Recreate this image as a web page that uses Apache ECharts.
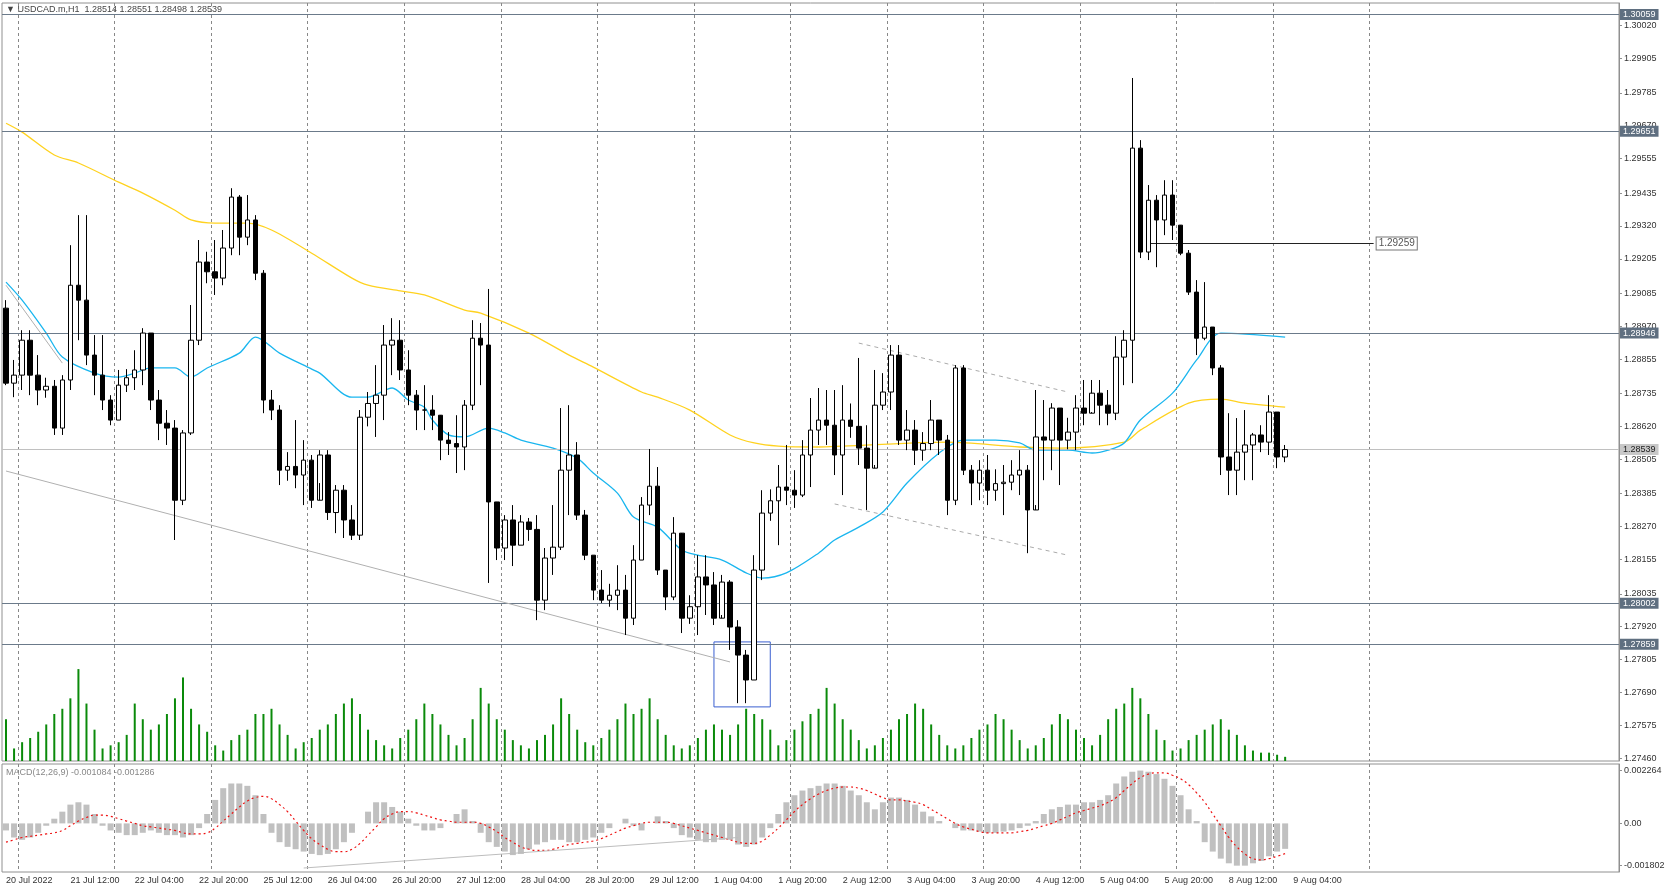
<!DOCTYPE html>
<html><head><meta charset="utf-8">
<script src="https://cdn.jsdelivr.net/npm/echarts@6/dist/echarts.min.js"></script>
<style>html,body{margin:0;padding:0;background:#fff}#c{width:1668px;height:889px}</style>
</head><body><div id="c"></div>
<script>
const firstOpen = 1.29033;
const closes = [1.28771,1.28799,1.28921,1.28799,1.28747,1.28760,1.28614,1.28782,1.29113,1.29061,1.28869,1.28799,1.28712,1.28642,1.28764,1.28790,1.28817,1.28946,1.28712,1.28631,1.28614,1.28362,1.28597,1.28921,1.29194,1.29160,1.29138,1.29243,1.29421,1.29281,1.29341,1.29155,1.28712,1.28677,1.28467,1.28480,1.28450,1.28502,1.28362,1.28520,1.28319,1.28397,1.28293,1.28240,1.28652,1.28700,1.28729,1.28904,1.28921,1.28817,1.28729,1.28677,1.28677,1.28659,1.28572,1.28560,1.28548,1.28694,1.28928,1.28904,1.28356,1.28195,1.28293,1.28205,1.28286,1.28260,1.28013,1.28160,1.28198,1.28467,1.28520,1.28310,1.28170,1.28048,1.28013,1.28030,1.28048,1.27950,1.28153,1.28345,1.28411,1.28118,1.28024,1.28247,1.27950,1.27990,1.28094,1.28066,1.27950,1.28076,1.27919,1.27821,1.27734,1.28118,1.28317,1.28360,1.28408,1.28397,1.28380,1.28520,1.28607,
1.28642,1.28624,1.28520,1.28642,1.28620,1.28544,1.28474,1.28694,1.28740,1.28869,1.28572,1.28607,1.28537,1.28560,1.28642,1.28572,1.28362,1.28824,1.28467,1.28422,1.28467,1.28397,1.28420,1.28425,1.28450,1.28467,1.28328,1.28583,1.28572,1.28684,1.28572,1.28600,1.28684,1.28666,1.28736,1.28694,1.28666,1.28862,1.28921,
1.29592,1.29229,1.29410,1.29341,1.29428,1.29323,1.29225,1.29089,1.28928,1.28967,1.28824,1.28513,1.28467,1.28530,1.28555,1.28590,1.28565,1.28670,1.28513,1.28539];
const highs = [1.29061,1.28852,1.28956,1.28956,1.28869,1.28790,1.28782,1.28799,1.29253,1.29358,1.29358,1.28939,1.28939,1.28729,1.28817,1.28820,1.28886,1.28963,1.28939,1.28747,1.28677,1.28642,1.28607,1.29044,1.29271,1.29230,1.29271,1.29306,1.29452,1.29428,1.29428,1.29358,1.29166,1.28747,1.28694,1.28530,1.28642,1.28572,1.28520,1.28537,1.28537,1.28415,1.28415,1.28345,1.28677,1.28740,1.28834,1.28974,1.28998,1.28991,1.28886,1.28747,1.28764,1.28729,1.28642,1.28600,1.28659,1.28712,1.28991,1.28981,1.29100,1.28328,1.28310,1.28345,1.28310,1.28300,1.28310,1.28195,1.28345,1.28684,1.28694,1.28565,1.28328,1.28170,1.28118,1.28070,1.28135,1.28101,1.28205,1.28373,1.28541,1.28478,1.28048,1.28303,1.28205,1.28030,1.28170,1.28170,1.28111,1.28101,1.28083,1.27943,1.27839,1.28170,1.28397,1.28400,1.28485,1.28555,1.28467,1.28572,1.28719,
1.28754,1.28747,1.28747,1.28764,1.28700,1.28859,1.28624,1.28817,1.28806,1.28904,1.28904,1.28677,1.28642,1.28600,1.28712,1.28642,1.28590,1.28834,1.28834,1.28485,1.28502,1.28520,1.28470,1.28485,1.28502,1.28537,1.28485,1.28747,1.28712,1.28701,1.28677,1.28650,1.28729,1.28782,1.28782,1.28782,1.28747,1.28935,1.28956,
1.29837,1.29620,1.29463,1.29428,1.29480,1.29480,1.29306,1.29236,1.29131,1.29124,1.28956,1.28834,1.28666,1.28649,1.28677,1.28597,1.28624,1.28729,1.28624,1.28555];
const lows = [1.28764,1.28722,1.28747,1.28729,1.28694,1.28720,1.28590,1.28590,1.28747,1.28921,1.28834,1.28729,1.28677,1.28624,1.28642,1.28740,1.28747,1.28764,1.28677,1.28572,1.28555,1.28223,1.28345,1.28590,1.28904,1.29120,1.29079,1.29113,1.29218,1.29218,1.29253,1.29131,1.28666,1.28642,1.28415,1.28430,1.28404,1.28345,1.28335,1.28422,1.28293,1.28247,1.28230,1.28223,1.28223,1.28620,1.28583,1.28642,1.28799,1.28782,1.28694,1.28607,1.28607,1.28607,1.28502,1.28520,1.28457,1.28467,1.28677,1.28764,1.28073,1.28153,1.28153,1.28132,1.28205,1.28220,1.27943,1.27978,1.28101,1.28188,1.28310,1.28293,1.28153,1.28013,1.28003,1.27990,1.27978,1.27891,1.27926,1.28153,1.28310,1.28101,1.27978,1.28013,1.27898,1.27930,1.27891,1.27961,1.27926,1.27961,1.27839,1.27653,1.27653,1.27734,1.28083,1.28290,1.28205,1.28345,1.28335,1.28373,1.28408,
1.28555,1.28555,1.28450,1.28380,1.28580,1.28485,1.28328,1.28485,1.28677,1.28677,1.28555,1.28537,1.28485,1.28500,1.28537,1.28520,1.28310,1.28345,1.28450,1.28345,1.28362,1.28345,1.28360,1.28310,1.28397,1.28380,1.28177,1.28345,1.28432,1.28467,1.28415,1.28540,1.28537,1.28624,1.28670,1.28624,1.28624,1.28642,1.28764,
1.28771,1.29208,1.29201,1.29176,1.29288,1.29271,1.29218,1.29079,1.28869,1.28921,1.28799,1.28450,1.28380,1.28380,1.28432,1.28432,1.28530,1.28520,1.28474,1.28495];
const volumes = [40,12,18,22,28,35,45,50,60,88,55,30,12,15,18,25,55,40,30,35,45,60,80,50,35,28,15,10,20,25,30,45,45,50,35,25,12,18,22,30,35,45,55,60,45,30,20,15,12,22,30,40,55,45,35,25,15,22,40,70,55,40,30,20,15,12,20,25,35,60,45,30,18,15,22,30,40,55,45,50,60,40,25,15,12,15,22,30,35,30,25,35,50,45,40,30,15,20,30,38,45,50,70,55,40,30,20,12,15,22,30,40,45,55,50,35,25,15,12,15,22,30,35,45,40,30,20,12,15,22,35,45,40,30,22,15,25,40,50,55,70,60,45,30,20,10,12,20,25,30,35,40,30,25,15,10,8,8,6,4];
const macdMain = [-3,-6,-7,-6,-4,-1,2,5,8,9,8,4,-1,-3,-4,-5,-5,-4,-3,-4,-5,-5,-6,-5,-2,4,10,15,17,17,16,12,4,-4,-8,-10,-11,-12,-13,-13.5,-13,-11,-8,-4,0,5,9,9,7,5,2,-1,-3,-3,-2,0,4,6,1,-4,-8,-10,-12,-13.5,-13,-11,-9,-8,-7,-7,-8,-8,-7,-6,-4,-2,0,2,-1,-3,0,3,1,-2,-5,-6,-7,-8,-8,-7,-7,-9,-10,-9,-6,-2,4,9,12,14,15,16,17,17,16,14,12,9,6,9,11,11,10,8,5,3,1,0,-2,-3,-3,-3.5,-4,-4,-3.5,-3,-2,-1,1,4,6,7,8,8,9,9,10,12,17,20,22,22.5,22,21,19,16,12,6,1,-8,-12,-15,-17,-18,-18,-17,-16,-14,-12,-10.84];
const macdSignal = [-8,-7,-6,-5.5,-5,-4.5,-4,-3,-1,1,2.5,3.5,3.5,3,2,1,0,-1,-1.5,-2,-2.5,-3,-4,-4.5,-4.5,-4,-2,1,4,7,9.5,11,11.5,10.5,8,5,1,-3,-6.5,-9,-11,-12,-12,-11,-8.5,-5,-1.5,2,4,5,5,4.5,3.5,2.5,1.5,1,0.5,0.5,0.5,0,-1.5,-3.5,-6,-8,-10,-11,-11.5,-11.5,-11,-10,-9,-8.5,-8,-7.5,-6.5,-5,-3.5,-2,-1,0,0.5,0.5,0.5,0,-1,-2,-3,-4,-5,-6,-7,-8,-8.5,-8.5,-7.5,-5,-2,1.5,5,8,10.5,12.5,14,15,15.5,15.5,15,14,12.5,11,10,10,9.5,9,8,6,4,2,0,-1.5,-2.5,-3.5,-4,-4,-4,-4,-3.5,-3,-2,-1,0,1.5,3,4.5,5.5,6.5,7.5,9,11,14,17,19.5,21,21.5,21.5,20.5,19,16.5,13,9,4,-1,-6,-10,-13,-15,-15.5,-15,-14,-12.86];
const maFast = [[0,1.29124],[2,1.29061],[5,1.28946],[7,1.28862],[11,1.28806],[14,1.28792],[16,1.28806],[18,1.28824],[21,1.28824],[23,1.28792],[25,1.28824],[29,1.28876],[31,1.28932],[34,1.28876],[38,1.28820],[39,1.28806],[43,1.28722],[45,1.28722],[48,1.28754],[50,1.28712],[52,1.28687],[53,1.28642],[55,1.28590],[57,1.28583],[60,1.28614],[62,1.28597],[64,1.28572],[68,1.28544],[71,1.28509],[73,1.28457],[76,1.28387],[78,1.28303],[81,1.28268],[84,1.28188],[86,1.28170],[89,1.28153],[92,1.28108],[94,1.28090],[97,1.28108],[101,1.28177],[103,1.28223],[106,1.28268],[109,1.28321],[112,1.28422],[116,1.28527],[119,1.28572],[123,1.28572],[126,1.28562],[128,1.28537],[132,1.28537],[135,1.28527],[137,1.28537],[139,1.28562],[141,1.28642],[145,1.28736],[148,1.28852],[151,1.28946],[159,1.28932]];
const maSlow = [[0,1.29679],[2,1.29648],[6,1.29568],[9,1.29540],[14,1.29473],[17,1.29435],[21,1.29375],[23,1.29341],[26,1.29330],[30,1.29330],[33,1.29306],[38,1.29225],[43,1.29138],[45,1.29113],[49,1.29093],[52,1.29079],[57,1.29026],[59,1.29016],[65,1.28946],[70,1.28869],[73,1.28827],[79,1.28740],[81,1.28722],[85,1.28677],[90,1.28590],[93,1.28562],[96,1.28551],[101,1.28548],[104,1.28551],[117,1.28565],[126,1.28548],[131,1.28544],[139,1.28565],[141,1.28607],[147,1.28701],[151,1.28715],[154,1.28701],[159,1.28687]];
const levelLines = [1.30059,1.29651,1.28946,1.28002,1.27859];
const currentPrice = 1.28539;
const rayLevel = [[142,1.29259],[170,1.29259]];
const trendMain = [[0,1.28464],[90,1.27797]];
const trendShort = [[0,1.29113],[7,1.28841]];
const channelUpper = [[106,1.28911],[132,1.28740]];
const channelLower = [[103,1.28349],[132,1.28170]];
const boxArea = [[88,1.27867],[95,1.27640]];
const macdTrend = [[37,-0.00190],[91,-0.00060]];
const priceTicks = [1.30020,1.29905,1.29785,1.29670,1.29555,1.29435,1.29320,1.29205,1.29085,1.28970,1.28855,1.28735,1.28620,1.28505,1.28385,1.28270,1.28155,1.28035,1.27920,1.27805,1.27690,1.27575,1.27460];
const macdTicks = [0.002264,0,-0.001802];
const timeLabels = ["20 Jul 2022","21 Jul 12:00","22 Jul 04:00","22 Jul 20:00","25 Jul 12:00","26 Jul 04:00","26 Jul 20:00","27 Jul 12:00","28 Jul 04:00","28 Jul 20:00","29 Jul 12:00","1 Aug 04:00","1 Aug 20:00","2 Aug 12:00","3 Aug 04:00","3 Aug 20:00","4 Aug 12:00","5 Aug 04:00","5 Aug 20:00","8 Aug 12:00","9 Aug 04:00"];
const SLOTS = 201;

const cats = Array.from({length:SLOTS},(_,i)=>String(i));
const candles = closes.map((c,i)=>[i===0?firstOpen:closes[i-1], c, lows[i], highs[i]]);
const macdVals = macdMain.map(v=>v/10000);
const sigVals = macdSignal.map(v=>v/10000);
const FONT = 'Liberation Sans';
const grid = '#888';
const chart = echarts.init(document.getElementById('c'));
const lvlLabel = (bg,fg)=>({show:true,position:'end',distance:1,formatter:p=>Number(p.value).toFixed(5),backgroundColor:bg,color:fg,padding:[1,3,1,3],fontSize:9,fontFamily:FONT});
const noLbl = {show:false};
const seg = (a,b,style,label)=>[{coord:a,lineStyle:style,label:label||noLbl},{coord:b,lineStyle:style,label:label||noLbl}];
const xBase = (gi,showLabel)=>({type:'category',gridIndex:gi,data:cats,boundaryGap:true,
  axisLine:{show:false},axisTick:{show:false},
  axisLabel:{show:showLabel,interval:i=>i%8===0,formatter:(v,i)=>timeLabels[i/8]||'',align:'left',fontSize:9,color:'#333',fontFamily:FONT,margin:4},
  splitLine:{show:gi!==1,interval:i=>i%12===2&&i<180,lineStyle:{color:grid,type:[3,3],width:1}}});
const greyLine = {color:'#b0b0b0',width:1,type:'solid'};
const dashLine = {color:'#aaa',width:1,type:[4,4]};
chart.setOption({
  animation:false,
  graphic:[
    {type:'text',left:6,top:5,style:{text:'▼ USDCAD.m,H1  1.28514 1.28551 1.28498 1.28539',fontSize:9,fill:'#444',fontFamily:FONT}},
    {type:'text',left:6,top:768,style:{text:'MACD(12,26,9) -0.001084 -0.001286',fontSize:9,fill:'#888',fontFamily:FONT}}
  ],
  grid:[
    {left:2,right:49,top:3,bottom:128,show:true,borderColor:'#909090',borderWidth:1},
    {left:2,right:49,top:667,height:94},
    {left:2,right:49,top:764,bottom:17,show:true,borderColor:'#909090',borderWidth:1}
  ],
  xAxis:[xBase(0,false),xBase(1,false),xBase(2,true)],
  yAxis:[
    {type:'value',gridIndex:0,position:'right',min:1.27451,max:1.30099,splitLine:{show:false},
     axisLine:{show:true,lineStyle:{color:'#909090'}},axisTick:{show:true,length:3,customValues:priceTicks},
     axisLabel:{customValues:priceTicks,formatter:v=>v.toFixed(5),fontSize:9,color:'#333',fontFamily:FONT,margin:5}},
    {type:'value',gridIndex:1,min:0,max:90,show:false},
    {type:'value',gridIndex:2,position:'right',min:-0.00207,max:0.00253,splitLine:{show:false},
     axisLine:{show:true,lineStyle:{color:'#909090'}},axisTick:{show:true,length:3,customValues:macdTicks},
     axisLabel:{customValues:macdTicks,formatter:v=>v===0?'0.00':v.toFixed(6),fontSize:9,color:'#333',fontFamily:FONT,margin:5}}
  ],
  series:[
    {type:'line',xAxisIndex:0,yAxisIndex:0,data:maSlow,symbol:'none',smooth:0.3,lineStyle:{color:'#ffd21f',width:1.3},z:2},
    {type:'line',xAxisIndex:0,yAxisIndex:0,data:maFast,symbol:'none',smooth:0.3,lineStyle:{color:'#1ab6ef',width:1.3},z:2},
    {type:'candlestick',xAxisIndex:0,yAxisIndex:0,data:candles,barWidth:5,z:5,
     itemStyle:{color:'#ffffff',color0:'#000000',borderColor:'#000000',borderColor0:'#000000',borderWidth:1},
     markLine:{symbol:'none',silent:true,animation:false,precision:5,data:[
        ...levelLines.map(v=>({yAxis:v,lineStyle:{color:'#6b7a8a',width:1.2,type:'solid'},label:lvlLabel('#5f6f80','#ffffff')})),
        {yAxis:currentPrice,lineStyle:{color:'#c0c0c0',width:1,type:'solid'},label:lvlLabel('#c8c8c8','#222')},
        seg(rayLevel[0],rayLevel[1],{color:'#222',width:1,type:'solid'},{show:true,position:'end',distance:3,formatter:rayLevel[1][1].toFixed(5),backgroundColor:'#fff',borderColor:'#777',borderWidth:1,color:'#555',padding:[1,2],fontSize:10,fontFamily:FONT}),
        seg(trendMain[0],trendMain[1],greyLine),
        seg(trendShort[0],trendShort[1],greyLine),
        seg(channelUpper[0],channelUpper[1],dashLine),
        seg(channelLower[0],channelLower[1],dashLine)
      ]},
     markArea:{silent:true,itemStyle:{color:'rgba(0,0,0,0)',borderColor:'#3a5fd0',borderWidth:1},data:[[{coord:boxArea[0]},{coord:boxArea[1]}]]}
    },
    {type:'bar',xAxisIndex:1,yAxisIndex:1,data:volumes,barWidth:2,itemStyle:{color:'#0a8a0a'}},
    {type:'bar',xAxisIndex:2,yAxisIndex:2,data:macdVals,barWidth:6,itemStyle:{color:'#c0c0c0'},
     markLine:{symbol:'none',silent:true,precision:6,label:{show:false},lineStyle:{color:'#bdbdbd',type:'solid',width:1},data:[seg(macdTrend[0],macdTrend[1],{color:'#bdbdbd',width:1,type:'solid'})]}},
    {type:'line',xAxisIndex:2,yAxisIndex:2,data:sigVals,symbol:'none',smooth:true,lineStyle:{color:'#ee1010',width:1.2,type:[2,3]}}
  ]
});
</script></body></html>
